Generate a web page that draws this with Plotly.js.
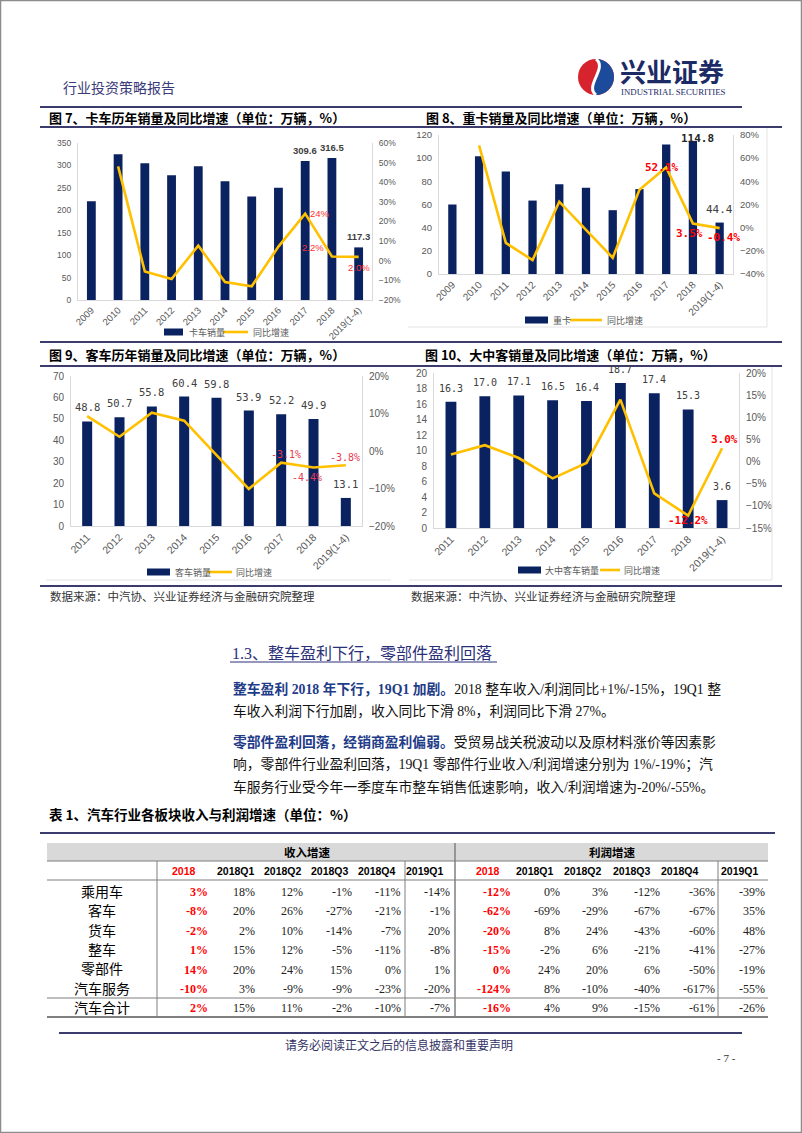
<!DOCTYPE html>
<html><head><meta charset="utf-8">
<script src="https://cdn.plot.ly/plotly-3.0.1.min.js"></script>
<style>html,body{margin:0;padding:0;background:#fff}#page{width:802px;height:1133px}</style>
</head><body><div id="page"></div>
<script>
// ---------------- data ----------------
const truckYears = ['2009','2010','2011','2012','2013','2014','2015','2016','2017','2018','2019(1-4)'];
const truckSales = [220, 325, 305, 278, 298, 265, 231, 250, 309.6, 316.5, 117.3];
const truckGrowth = [null, 0.481, -0.055, -0.093, 0.077, -0.108, -0.13, 0.072, 0.24, 0.022, 0.020];

const heavyYears = ['2009','2010','2011','2012','2013','2014','2015','2016','2017','2018','2019(1-4)'];
const heavySales = [60, 101.6, 88.4, 63.4, 77.4, 74.4, 55.1, 73.3, 111.7, 114.8, 44.4];
const heavyGrowth = [null, 0.71, -0.132, -0.28, 0.224, -0.02, -0.26, 0.327, 0.521, 0.035, -0.004];

const busYears = ['2011','2012','2013','2014','2015','2016','2017','2018','2019(1-4)'];
const busSales = [48.8, 50.7, 55.8, 60.4, 59.8, 53.9, 52.2, 49.9, 13.1];
const busGrowth = [0.093, 0.038, 0.102, 0.081, -0.011, -0.101, -0.031, -0.044, -0.038];

const lmBusYears = ['2011','2012','2013','2014','2015','2016','2017','2018','2019(1-4)'];
const lmBusSales = [16.3, 17.0, 17.1, 16.5, 16.4, 18.7, 17.4, 15.3, 3.6];
const lmBusGrowth = [0.016, 0.037, 0.008, -0.038, -0.003, 0.14, -0.072, -0.122, 0.030];

const tblRows = ['乘用车','客车','货车','整车','零部件','汽车服务','汽车合计'];
const tblCols = ['2018','2018Q1','2018Q2','2018Q3','2018Q4','2019Q1'];
const revenueGrowth = [
  [3, 18, 12, -1, -11, -14],
  [-8, 20, 26, -27, -21, -1],
  [-2, 2, 10, -14, -7, 20],
  [1, 15, 12, -5, -11, -8],
  [14, 20, 24, 15, 0, 1],
  [-10, 3, -9, -9, -23, -20],
  [2, 15, 11, -2, -10, -7]
];
const profitGrowth = [
  [-12, 0, 3, -12, -36, -39],
  [-62, -69, -29, -67, -67, 35],
  [-20, 8, 24, -43, -60, 48],
  [-15, -2, 6, -21, -41, -27],
  [0, 24, 20, 6, -50, -19],
  [-124, 8, -10, -40, -617, -55],
  [-16, 4, 9, -15, -61, -26]
];

// ---------------- helpers ----------------
const W = 802, H = 1133;
const X = p => p / W, Y = p => 1 - p / H;
const NAVY = '#0b2261', GOLD = '#FFC000', RULE = '#3b3b6e';
const CJK = 'Noto Sans CJK SC';
const SANS = 'Liberation Sans, Noto Sans CJK SC';
const SERIF = 'Liberation Serif, Noto Sans CJK SC';
const MONO = 'DejaVu Sans Mono, Noto Sans CJK SC';

const shapes = [], annotations = [];
function L(x0, y0, x1, y1, c, w) { shapes.push({type:'line', xref:'paper', yref:'paper', x0:X(x0), y0:Y(y0), x1:X(x1), y1:Y(y1), line:{color:c, width:w}}); }
function R(x0, y0, x1, y1, fill, lc, lw) { shapes.push({type:'rect', xref:'paper', yref:'paper', x0:X(x0), y0:Y(y0), x1:X(x1), y1:Y(y1), fillcolor:fill, line:{color:lc||'rgba(0,0,0,0)', width:lw||0}, layer:'below'}); }
function P(cmds, fill, lc, lw) {
  const d = cmds.map(c => {
    if (c.length === 1) return c[0];
    const pts = [];
    for (let i = 1; i < c.length; i += 2) pts.push(X(c[i]) + ',' + Y(c[i + 1]));
    return c[0] + ' ' + pts.join(' ');
  }).join(' ');
  shapes.push({type:'path', xref:'paper', yref:'paper', path:d, fillcolor:fill, line:{color:lc||'rgba(0,0,0,0)', width:lw||0}});
}
function A(x, y, text, o) {
  o = o || {};
  annotations.push({xref:'paper', yref:'paper', x:X(x), y:Y(y), text, showarrow:false,
    xanchor:o.xa||'left', yanchor:o.ya||'middle', align:o.xa||'left',
    font:{family:o.f||CJK, size:o.s||12, color:o.c||'#000'}});
}
function D(xref, yref, x, y, text, o) {
  annotations.push({xref, yref, x, y, text, showarrow:false,
    xanchor:o.xa||'center', yanchor:o.ya||'middle', xshift:o.dx||0, yshift:o.dy||0,
    font:{family:o.f||SANS, size:o.s||10, color:o.c||'#404040'}});
}
const pct = (v, d) => (v * 100).toFixed(d) + '%';

// ---------------- charts ----------------
const traces = [];
const layout = {
  width: W, height: H, margin:{l:0, r:0, t:0, b:0},
  paper_bgcolor:'#ffffff', plot_bgcolor:'rgba(0,0,0,0)', showlegend:false,
  font:{family:SANS, color:'#595959'}
};
function chart(k, cats, vals, growth, box, ranges, sz, xsz, bw) {
  const xs = k === 1 ? '' : String(k);
  const ys = 2*k - 1 === 1 ? '' : String(2*k - 1);
  const xa = 'x' + xs, ya = 'y' + ys, yb = 'y' + (2*k);
  const idx = cats.map((c, i) => i);
  traces.push({type:'bar', x:idx, y:vals, xaxis:xa, yaxis:ya, width:bw, marker:{color:NAVY}, hoverinfo:'skip'});
  traces.push({type:'scatter', mode:'lines', x:idx, y:growth, xaxis:xa, yaxis:yb, line:{color:GOLD, width:2.6}, hoverinfo:'skip'});
  const tf = {family:SANS, size:sz, color:'#595959'};
  layout['xaxis' + xs] = {domain:[X(box[0]), X(box[1])], anchor:ya, range:[-0.5, cats.length - 0.5],
    tickmode:'array', tickvals:idx, ticktext:cats, tickangle:-45,
    tickfont:{family:SANS, size:xsz, color:'#595959'}, showline:true, linecolor:'#d9d9d9', ticks:'', showgrid:false, zeroline:false, fixedrange:true};
  layout['yaxis' + ys] = {domain:[Y(box[3]), Y(box[2])], anchor:xa, range:ranges[0], dtick:ranges[1],
    tickfont:tf, showline:true, linecolor:'#d9d9d9', ticks:'', showgrid:false, zeroline:false, ticklabelstandoff:4, fixedrange:true};
  layout['yaxis' + (2*k)] = {overlaying:ya, side:'right', anchor:xa, range:ranges[2], dtick:ranges[3], tickformat:'.0%',
    tickfont:tf, showline:true, linecolor:'#d9d9d9', ticks:'', showgrid:false, zeroline:false, ticklabelstandoff:4, fixedrange:true};
  return {xa, ya, yb};
}

// Fig 7
const c7 = chart(1, truckYears, truckSales, truckGrowth, [78, 372, 143, 300], [[0, 350], 50, [-0.2, 0.6], 0.1], 8.5, 9.5, 0.33);
[8, 9, 10].forEach(i => D(c7.xa, c7.ya, i, truckSales[i], '<b>' + truckSales[i].toFixed(1) + '</b>', {ya:'bottom', dy:3, s:9.5, c:'#404040'}));
const g7 = [[8, 0, {xa:'left', dx:3}], [9, 1, {xa:'right', dx:-6, dy:9}], [10, 1, {dy:-11}]];
g7.forEach(([i, d, o]) => D(c7.xa, c7.yb, i, truckGrowth[i], pct(truckGrowth[i], d), Object.assign({s:9.5, c:'#ff3030'}, o)));

// Fig 8
const c8 = chart(2, heavyYears, heavySales, heavyGrowth, [439, 733, 135, 274], [[0, 120], 20, [-0.4, 0.8], 0.2], 9.5, 10, 0.31);
D(c8.xa, c8.ya, 9, heavySales[9], '<b>' + heavySales[9].toFixed(1) + '</b>', {dx:5, dy:3, s:11, f:MONO, c:'#262626'});
D(c8.xa, c8.ya, 10, heavySales[10], heavySales[10].toFixed(1), {dy:13, s:11, f:MONO, c:'#404040'});
const g8 = [[8, {dx:-5, dy:0}], [9, {dx:-3, dy:-10}], [10, {dx:4, dy:-9}]];
g8.forEach(([i, o]) => D(c8.xa, c8.yb, i, heavyGrowth[i], '<b>' + pct(heavyGrowth[i], 1) + '</b>', Object.assign({s:11, f:MONO, c:'#ff0000'}, o)));

// Fig 9
const c9 = chart(3, busYears, busSales, busGrowth, [71, 362, 376, 526], [[0, 70], 10, [-0.2, 0.2], 0.1], 10, 10.5, 0.31);
busSales.forEach((v, i) => D(c9.xa, c9.ya, i, v, v.toFixed(1), {ya:'bottom', dy:6, s:10.5, f:MONO, c:'#404040'}));
const g9 = [[6, {dx:5, dy:8}], [7, {dx:-7, dy:-10}], [8, {dx:-1, dy:8}]];
g9.forEach(([i, o]) => D(c9.xa, c9.yb, i, busGrowth[i], pct(busGrowth[i], 1), Object.assign({s:10, f:MONO, c:'#e8384f'}, o)));

// Fig 10
const c10 = chart(4, lmBusYears, lmBusSales, lmBusGrowth, [434, 739, 373, 528], [[0, 20], 2, [-0.15, 0.2], 0.05], 10, 10.5, 0.32);
lmBusSales.forEach((v, i) => D(c10.xa, c10.ya, i, v, v.toFixed(1), {ya:'bottom', dy:6, s:10, f:MONO, c:'#404040'}));
const g10 = [[7, {dx:0, dy:-5}], [8, {dx:2, dy:9}]];
g10.forEach(([i, o]) => D(c10.xa, c10.yb, i, lmBusGrowth[i], '<b>' + pct(lmBusGrowth[i], 1) + '</b>', Object.assign({s:11, f:MONO, c:'#ff0000'}, o)));

// legends (drawn manually)
function legend(y, bx0, bx1, t1, t1x, lx0, lx1, t2x) {
  shapes.push({type:'rect', xref:'paper', yref:'paper', x0:X(bx0), x1:X(bx1), y0:Y(y + 3.5), y1:Y(y - 3.5), fillcolor:NAVY, line:{width:0}});
  L(lx0, y, lx1, y, GOLD, 2.6);
  A(t1x, y, t1, {s:9, c:'#595959'});
  A(t2x, y, '同比增速', {s:9, c:'#595959'});
}
legend(332, 164, 183, '卡车销量', 187, 223, 248, 251);
legend(320, 525, 548, '重卡', 551, 570, 602, 605);
legend(572, 147, 170, '客车销量', 173, 207, 232, 234);
legend(570, 518, 541, '大中客车销量', 543, 600, 620, 622);

// chart frames
L(408, 327, 767, 327, '#e3e3e3', 1); L(767, 127, 767, 327, '#e3e3e3', 1);
L(46, 580, 391, 580, '#e3e3e3', 1);
L(409, 580, 772, 580, '#e3e3e3', 1); L(772, 366, 772, 580, '#e3e3e3', 1);

// ---------------- page furniture ----------------
R(0.5, 0.5, 801.5, 1132.5, 'rgba(0,0,0,0)', '#8c8c8c', 1.5);
A(61, 87, '行业投资策略报告', {s:14, c:'#3a3a78'});
// logo
const cx = 596, cy = 77, r = 18, k = r * 0.5523;
shapes.push({type:'circle', xref:'paper', yref:'paper', x0:X(cx - r), x1:X(cx + r), y0:Y(cy + r), y1:Y(cy - r), fillcolor:'#d7232e', line:{width:0}});
P([['M', cx, cy - r], ['C', cx + k, cy - r, cx + r, cy - k, cx + r, cy], ['C', cx + r, cy + k, cx + k, cy + r, cx, cy + r],
   ['C', cx - 12, cy + 9, cx + 12, cy - 9, cx, cy - r], ['Z']], '#1c4b9c');
P([['M', cx, cy - r], ['C', cx + 12, cy - 9, cx - 12, cy + 9, cx, cy + r]], 'rgba(0,0,0,0)', '#ffffff', 3);
A(618, 70, '<b>兴业证券</b>', {s:26, c:'#1c2a66'});
A(619, 92, 'INDUSTRIAL SECURITIES', {s:8.8, f:'Liberation Serif', c:'#1c2a66'});
L(40, 107, 742, 107, RULE, 2);

A(47, 117, '<b>图 7、卡车历年销量及同比增速（单位：万辆，%）</b>', {s:13});
A(424, 117, '<b>图 8、重卡销量及同比增速（单位：万辆，%）</b>', {s:13});
L(40, 127, 782, 127, RULE, 2);

L(40, 342, 782, 342, RULE, 2);
A(47, 355, '<b>图 9、客车历年销量及同比增速（单位：万辆，%）</b>', {s:13});
A(423, 355, '<b>图 10、大中客销量及同比增速（单位：万辆，%）</b>', {s:13});
L(40, 366, 782, 366, RULE, 2);

L(40, 586, 782, 586, RULE, 2);
A(48, 596, '数据来源：中汽协、兴业证券经济与金融研究院整理', {s:11.5, c:'#333'});
A(409, 596, '数据来源：中汽协、兴业证券经济与金融研究院整理', {s:11.5, c:'#333'});

// section text
A(230, 653, '1.3、整车盈利下行，零部件盈利回落', {s:16, f:SERIF, c:'#2a2f7a'});
L(230, 662, 497, 662, '#2a2f7a', 1);
const BL = '#1f3c88';
const para = [
  [689, '<b><span style="color:' + BL + '">整车盈利 2018 年下行，19Q1 加剧。</span></b>2018 整车收入/利润同比+1%/-15%，19Q1 整'],
  [711, '车收入利润下行加剧，收入同比下滑 8%，利润同比下滑 27%。'],
  [742, '<b><span style="color:' + BL + '">零部件盈利回落，经销商盈利偏弱。</span></b>受贸易战关税波动以及原材料涨价等因素影'],
  [765, '响，零部件行业盈利回落，19Q1 零部件行业收入/利润增速分别为 1%/-19%；汽'],
  [787, '车服务行业受今年一季度车市整车销售低速影响，收入/利润增速为-20%/-55%。']
];
para.forEach(([y, t]) => A(231, y, t, {s:13.8, f:SERIF, c:'#111'}));

// ---------------- table ----------------
A(47, 814, '<b>表 1、汽车行业各板块收入与利润增速（单位：%）</b>', {s:13.5});
L(40, 833, 775, 833, RULE, 2);
R(47, 843, 768, 861, '#d9d9d9');
L(47, 861, 768, 861, '#7f7f7f', 1.2);
L(47, 880, 768, 880, '#7f7f7f', 1.2);
L(47, 998, 768, 998, '#7f7f7f', 1.2);
L(47, 1017, 768, 1017, '#7f7f7f', 2);
L(455, 843, 455, 1017, '#7f7f7f', 1.5);
L(157, 861, 157, 1017, '#7f7f7f', 1);
L(405, 861, 405, 1017, '#7f7f7f', 1);
L(718, 861, 718, 1017, '#7f7f7f', 1);
A(307, 852, '<b>收入增速</b>', {s:11.5, xa:'center'});
A(612, 852, '<b>利润增速</b>', {s:11.5, xa:'center'});
const revHead = [184, 236, 283, 330, 377, 425], profHead = [488, 535, 583, 632, 680, 740];
const revRight = [210, 257, 305, 354, 403, 452], profRight = [513, 562, 610, 662, 717, 767];
tblCols.forEach((c, j) => {
  const col = j === 0 ? '#ff0000' : '#000';
  A(revHead[j], 871, '<b>' + c + '</b>', {s:10.5, f:SANS, xa:'center', c:col});
  A(profHead[j], 871, '<b>' + c + '</b>', {s:10.5, f:SANS, xa:'center', c:col});
});
tblRows.forEach((name, i) => {
  const y = i === 6 ? 1008 : 892 + i * 19.4;
  A(102, y, name, {s:14, xa:'center', f:SERIF});
  [[revenueGrowth, revRight], [profitGrowth, profRight]].forEach(([tbl, pos]) => {
    tbl[i].forEach((v, j) => {
      const t = v + '%';
      if (j === 0) A(pos[j], y, '<b>' + t + '</b>', {s:12, f:'Liberation Serif', xa:'right', c:'#ff0000'});
      else A(pos[j], y, t, {s:12, f:'Liberation Serif', xa:'right', c:'#222'});
    });
  });
});

// footer
L(59, 1033, 742, 1033, RULE, 2);
A(399, 1044, '请务必阅读正文之后的信息披露和重要声明', {s:12, xa:'center', c:'#333366'});
A(726, 1058, '- 7 -', {s:11, f:'Liberation Serif', xa:'center', c:'#333'});

layout.shapes = shapes;
layout.annotations = annotations;
Plotly.newPlot('page', traces, layout, {staticPlot:true, displayModeBar:false});
</script>
</body></html>
